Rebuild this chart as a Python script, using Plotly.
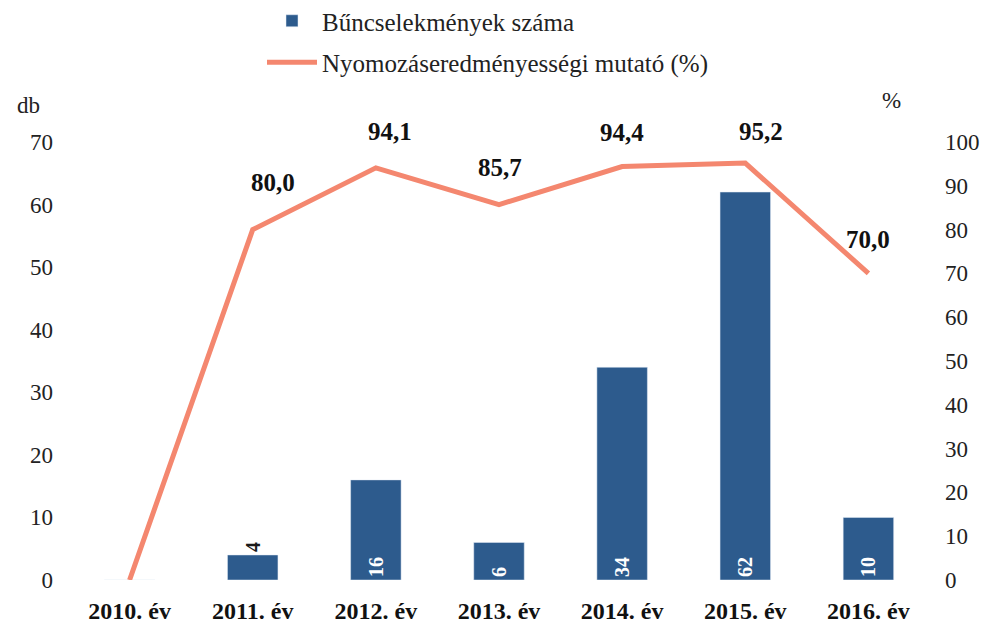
import plotly.graph_objects as go

years = ["2010. év", "2011. év", "2012. év", "2013. év", "2014. év", "2015. év", "2016. év"]
crimes = [0, 4, 16, 6, 34, 62, 10]
rate = [0.0, 80.0, 94.1, 85.7, 94.4, 95.2, 70.0]
rate_labels = ["", "80,0", "94,1", "85,7", "94,4", "95,2", "70,0"]

FONT = "Liberation Serif, Times New Roman, serif"
BAR_COLOR = "#2D5B8D"
LINE_COLOR = "#F4876F"

OFF = 8  # page body margin
W, H = 990, 632
ML, MR, MT, MB = 68 - OFF, W - (930 - OFF), 142 - OFF, H - (580 - OFF)
PW, PH = W - ML - MR, H - MT - MB


def px_to_paper(sx, sy):
    fx, fy = sx - OFF, sy - OFF
    return (fx - ML) / PW, (H - MB - fy) / PH


bar_text = ["<b>%d</b>" % v if v > 0 else "" for v in crimes]
bar_pos = ["none" if v == 0 else ("outside" if v < 5 else "inside") for v in crimes]
bar_text_colors = ["#1a1a1a" if v < 5 else "white" for v in crimes]

fig = go.Figure()
fig.add_trace(go.Bar(
    x=years, y=crimes, name="Bűncselekmények száma",
    marker=dict(color=BAR_COLOR),
    text=bar_text, textposition=bar_pos, textangle=-90,
    insidetextanchor="start", constraintext="none",
    textfont=dict(family=FONT, size=20, color=bar_text_colors),
    outsidetextfont=dict(family=FONT, size=20, color="#1a1a1a"),
    cliponaxis=False,
    legendgroup="a",
))
fig.add_trace(go.Scatter(
    x=years, y=rate, name="Nyomozáseredményességi mutató (%)",
    mode="lines", line=dict(color=LINE_COLOR, width=5),
    yaxis="y2", legendgroup="b", cliponaxis=False,
))

shifts = {1: (20, 47), 2: (14, 36), 3: (1, 37), 4: (0, 34), 5: (16, 32), 6: (0, 34)}
for i, lab in enumerate(rate_labels):
    if not lab:
        continue
    dx, dy = shifts[i]
    fig.add_annotation(x=years[i], y=rate[i], yref="y2", text="<b>%s</b>" % lab,
                       showarrow=False, xshift=dx, yshift=dy,
                       font=dict(family=FONT, size=25, color="#111111"))

for txt, (sx, sy) in [("db", (28, 105)), ("%", (891, 100))]:
    x, y = px_to_paper(sx, sy)
    fig.add_annotation(xref="paper", yref="paper", x=x, y=y, text=txt, showarrow=False,
                       xanchor="center", yanchor="middle",
                       font=dict(family=FONT, size=23, color="#222"))

lx, ly = px_to_paper(262, -2)
fig.update_layout(
    width=W, height=H,
    margin=dict(l=ML, r=MR, t=MT, b=MB, autoexpand=False),
    paper_bgcolor="white", plot_bgcolor="white",
    font=dict(family=FONT, size=20, color="#222"),
    bargap=0.59,
    uniformtext=dict(mode="show", minsize=20),
    showlegend=True,
    legend=dict(x=lx, y=ly, itemwidth=50,
                xanchor="left", yanchor="top", traceorder="grouped", tracegroupgap=6,
                font=dict(family=FONT, size=25, color="#222"), bgcolor="rgba(0,0,0,0)"),
    xaxis=dict(showgrid=False, zeroline=False, showline=False, ticks="", tickangle=0,
               ticklabelstandoff=14,
               tickfont=dict(family=FONT, size=24, color="#111"),
               tickprefix="<b>", ticksuffix="</b>"),
    yaxis=dict(range=[0, 70], dtick=10, showgrid=False, zeroline=False, showline=False,
               ticks="", ticklabelstandoff=14, tickfont=dict(family=FONT, size=23, color="#222")),
    yaxis2=dict(range=[0, 100], dtick=10, overlaying="y", side="right", showgrid=False,
                zeroline=False, showline=False, ticks="", ticklabelstandoff=14,
                tickfont=dict(family=FONT, size=23, color="#222")),
)

fig.write_html("out.html")
